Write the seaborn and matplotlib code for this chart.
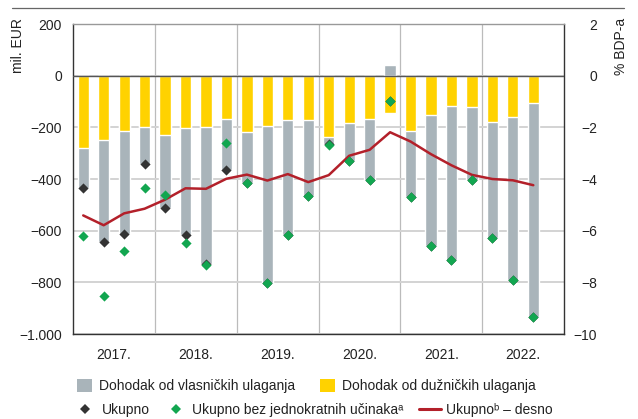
import numpy as np
import pandas as pd
import seaborn as sns
import matplotlib.pyplot as plt
from matplotlib.patches import Patch
from matplotlib.lines import Line2D

# Quarterly data, 2017 Q1 - 2022 Q3
years = ["2017.", "2018.", "2019.", "2020.", "2021.", "2022."]
quarters = [f"{y}Q{q}" for y in range(2017, 2023) for q in range(1, 5)][:23]

# Income on equity investments (mil. EUR)
equity = [-156, -394, -397, -143, -282, -414, -530, -198, -196, -608, -447, -294,
          -28, -148, -238, 43, -257, -507, -596, -283, -451, -629, -830]
# Income on debt investments (mil. EUR)
debt = [-279, -250, -215, -197, -230, -201, -198, -169, -219, -195, -170, -170,
        -237, -184, -166, -143, -213, -153, -117, -122, -178, -161, -105]
# Total (mil. EUR)
total = [-435, -644, -612, -340, -512, -615, -728, -367, -415, -803, -617, -464,
         -265, -332, -404, -100, -470, -660, -713, -405, -629, -790, -935]
# Total excluding one-off effects (mil. EUR)
adjusted = [-620, -854, -678, -435, -462, -647, -732, -262, -415, -803, -617, -464,
            -268, -332, -404, -100, -470, -660, -713, -405, -629, -790, -935]
# Total, % of GDP (right axis)
gdp_share = [-5.41, -5.79, -5.33, -5.15, -4.80, -4.36, -4.38, -3.99, -3.83, -4.06,
             -3.81, -4.12, -3.85, -3.10, -2.87, -2.19, -2.55, -3.04, -3.47, -3.84,
             -4.00, -4.05, -4.24]

left_ticks = [200, 0, -200, -400, -600, -800, -1000]
left_labels = ["200", "0", "\u2212200", "\u2212400", "\u2212600", "\u2212800", "\u22121.000"]
right_ticks = [2, 0, -2, -4, -6, -8, -10]
right_labels = ["2", "0", "\u22122", "\u22124", "\u22126", "\u22128", "\u221210"]

lab_equity = "Dohodak od vlasničkih ulaganja"
lab_debt = "Dohodak od dužničkih ulaganja"
lab_total = "Ukupno"
lab_adjusted = "Ukupno bez jednokratnih učinaka\u1d43"
lab_gdp = "Ukupno\u1d47 \u2013 desno"

GRAY = "#a9b4ba"
YELLOW = "#ffd200"
GREEN = "#12a650"
DARK = "#333333"
RED = "#b3202a"
FS = 10

sns.set_theme(style="white")
plt.rcParams["font.family"] = ["Liberation Sans", "DejaVu Sans"]
plt.rcParams["text.color"] = "#222222"
plt.rcParams["xtick.color"] = "#222222"
plt.rcParams["ytick.color"] = "#222222"

df = pd.DataFrame({
    "pos": np.arange(len(quarters)),
    "quarter": quarters,
    "equity": equity,
    "debt": debt,
    "total": total,
    "adjusted": adjusted,
    "gdp": gdp_share,
})
# equity bar is stacked below the debt bar when negative
df["equity_stack"] = np.where(df["equity"] < 0, df["equity"] + df["debt"], df["equity"])

W, H = 638, 419
fig = plt.figure(figsize=(W / 100, H / 100), dpi=100)
rect = [73 / W, 1 - 334 / H, (564 - 73) / W, (334 - 24) / H]
ax = fig.add_axes(rect)

sns.barplot(data=df, x="pos", y="equity_stack", color=GRAY, saturation=1,
            width=0.55, errorbar=None, ax=ax)
sns.barplot(data=df, x="pos", y="debt", color=YELLOW, saturation=1,
            width=0.55, errorbar=None, ax=ax)
ax.axhline(0, color="#555555", lw=1.0, zorder=3)

year_centers = [1.5 + 4 * i for i in range(len(years))]
year_bounds = [-0.5 + 4 * i for i in range(1, len(years))]
ax.set_xlim(-0.5, 23.5)
ax.set_ylim(-1000, 200)
ax.set_yticks(left_ticks, left_labels)
ax.set_xticks(year_centers, years)
ax.set_xticks(year_bounds, minor=True)
ax.tick_params(axis="both", which="both", length=0)
ax.tick_params(axis="y", pad=8, labelsize=FS)
ax.tick_params(axis="x", pad=10, labelsize=FS)
ax.grid(False)
ax.yaxis.grid(True, color="#d3d3d3", lw=1.4)
ax.xaxis.grid(True, which="minor", color="#bbbbbb", lw=0.9)
ax.set_axisbelow(True)
ax.set_xlabel("")
ax.set_ylabel("")
for side in ["left", "bottom", "right"]:
    ax.spines[side].set_color("#333333")
    ax.spines[side].set_linewidth(1.0)
ax.spines["top"].set_color("#999999")
ax.spines["top"].set_linewidth(1.0)

# right axis: share of GDP
ax2 = ax.twinx()
sns.lineplot(data=df, x="pos", y="gdp", color=RED, lw=1.8, ax=ax2)
ax2.set_ylim(-10, 2)
ax2.set_yticks(right_ticks, right_labels)
ax2.tick_params(axis="y", length=0, pad=24, labelsize=FS)
for lab in ax2.get_yticklabels():
    lab.set_horizontalalignment("right")
ax2.set_ylabel("")
ax2.set_xlabel("")
for s in ax2.spines.values():
    s.set_visible(False)

# diamonds on top of the line, left scale
ax3 = fig.add_axes(rect, sharex=ax, sharey=ax)
ax3.set_axis_off()
sns.scatterplot(data=df, x="pos", y="total", marker="D", color=DARK, s=27,
                linewidth=0, ax=ax3)
sns.scatterplot(data=df, x="pos", y="adjusted", marker="D", color=GREEN, s=27,
                linewidth=0, ax=ax3)
ax.set_xlim(-0.5, 23.5)
ax.set_ylim(-1000, 200)

fig.text(18 / W, 1 - 18 / H, "mil. EUR", rotation=90, ha="center", va="top", fontsize=FS)
fig.text(621 / W, 1 - 18 / H, "% BDP-a", rotation=90, ha="center", va="top", fontsize=FS)
fig.add_artist(Line2D([12 / W, 624 / W], [1 - 8.5 / H] * 2, transform=fig.transFigure,
                      color="#666666", lw=0.9))

h1 = [Patch(facecolor=GRAY, edgecolor="none"), Patch(facecolor=YELLOW, edgecolor="none")]
fig.legend(h1, [lab_equity, lab_debt], loc="center left",
           bbox_to_anchor=(77 / W, 1 - 386 / H), ncol=2, frameon=False, fontsize=FS,
           handlelength=1.08, handleheight=1.1, handletextpad=0.5, columnspacing=1.8,
           borderpad=0, borderaxespad=0)
h2 = [Line2D([], [], ls="none", marker="D", color=DARK, markersize=5.3, mew=0),
      Line2D([], [], ls="none", marker="D", color=GREEN, markersize=5.3, mew=0),
      Line2D([], [], color=RED, lw=2.2)]
fig.legend(h2, [lab_total, lab_adjusted, lab_gdp], loc="center left",
           bbox_to_anchor=(74 / W, 1 - 410 / H), ncol=3, frameon=False, fontsize=FS,
           handlelength=1.58, handletextpad=0.4, columnspacing=1.1,
           borderpad=0, borderaxespad=0)

fig.savefig("out.png", dpi=100)
